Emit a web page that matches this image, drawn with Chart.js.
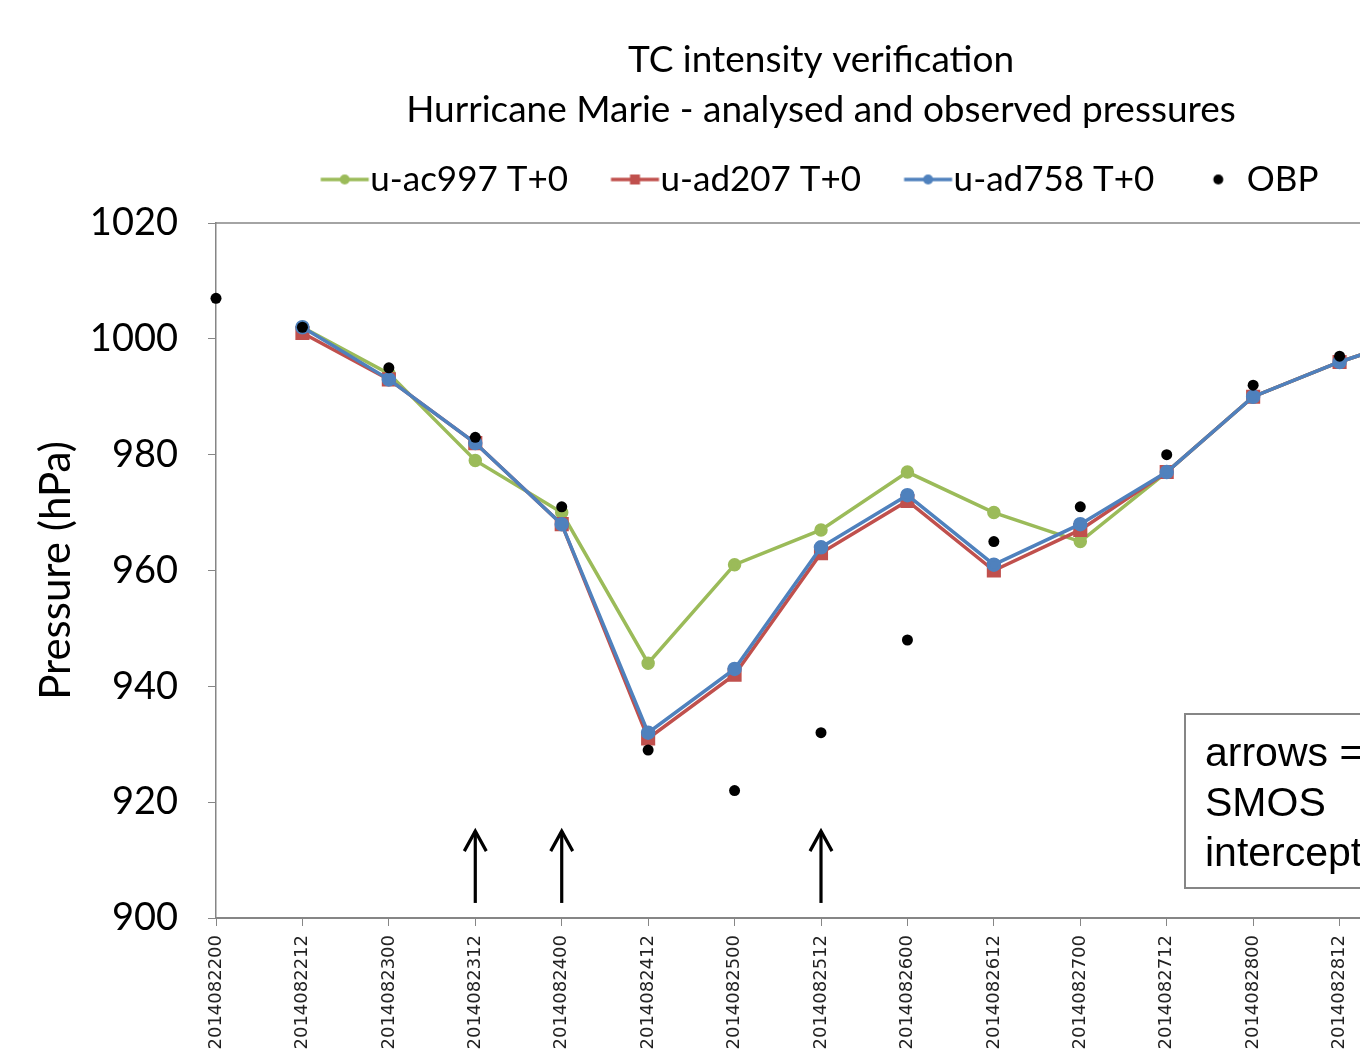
<!DOCTYPE html>
<html>
<head>
<meta charset="utf-8">
<title>TC intensity verification</title>
<script src="https://cdn.jsdelivr.net/npm/chart.js@4/dist/chart.umd.min.js"></script>
<style>
  html, body { margin: 0; padding: 0; background: #fff; overflow: hidden; }
  #wrap { position: absolute; left: 0; top: 0; width: 1642px; height: 1064px; }
</style>
</head>
<body>
<div id="wrap"><canvas id="tcChart" width="1642" height="1064"></canvas></div>
<script>
var CATEGORIES = ['2014082200', '2014082212', '2014082300', '2014082312', '2014082400',
                  '2014082412', '2014082500', '2014082512', '2014082600', '2014082612',
                  '2014082700', '2014082712', '2014082800', '2014082812', '2014082900'];
var AC997 = [null, 1002, 994, 979, 970, 944, 961, 967, 977, 970, 965, 977, 990, 996, 1001];
var AD207 = [null, 1001, 993, 982, 968, 931, 942, 963, 972, 960, 967, 977, 990, 996, 1001];
var AD758 = [null, 1002, 993, 982, 968, 932, 943, 964, 973, 961, 968, 977, 990, 996, 1001];
var OBP   = [1007, 1002, 995, 983, 971, 929, 922, 932, 948, 965, 971, 980, 992, 997, null];
var Y_TICKS = [900, 920, 940, 960, 980, 1000, 1020];
var SMOS_INTERCEPTS = ['2014082312', '2014082400', '2014082512'];
var NOTE_LINES = ['arrows =', 'SMOS', 'intercepts'];

var GREEN = '#9BBB59', RED = '#C0504D', BLUE = '#4F81BD', GREY = '#868686';

// little legend pictures: line with marker, like the office legend
function legendIcon(color, marker, withLine) {
    var c = document.createElement('canvas');
    c.width = 150; c.height = 24;
    var g = c.getContext('2d');
    var cx = 75 + 24.5;
    if (withLine) {
        g.strokeStyle = color; g.lineWidth = 3.5;
        g.beginPath(); g.moveTo(cx - 24, 12); g.lineTo(cx + 24, 12); g.stroke();
    }
    g.fillStyle = color;
    if (marker === 'rect') {
        g.fillRect(cx - 5, 7, 10, 10);
    } else if (marker === 'dot') {
        g.beginPath(); g.arc(75 + 21.5, 12, 5, 0, Math.PI * 2); g.fill();
    } else {
        g.beginPath(); g.arc(cx, 12, 5, 0, Math.PI * 2); g.fill();
    }
    return c;
}

var arrowsAndNote = {
    id: 'arrowsAndNote',
    afterDatasetsDraw: function(chart) {
        var ctx = chart.ctx, x = chart.scales.x, y = chart.scales.y, a = chart.chartArea;
        ctx.save();
        // plot area border
        ctx.strokeStyle = GREY; ctx.lineWidth = 1.5;
        ctx.beginPath();
        ctx.moveTo(a.left, a.top); ctx.lineTo(a.right, a.top); ctx.lineTo(a.right, a.bottom);
        ctx.stroke();
        // SMOS arrows
        ctx.strokeStyle = '#000'; ctx.lineWidth = 3.2;
        SMOS_INTERCEPTS.forEach(function(lab) {
            var px = x.getPixelForValue(CATEGORIES.indexOf(lab));
            var y0 = y.getPixelForValue(902.6), y1 = y.getPixelForValue(915);
            ctx.beginPath(); ctx.moveTo(px, y0); ctx.lineTo(px, y1); ctx.stroke();
            ctx.beginPath();
            ctx.moveTo(px - 11, y1 + 20); ctx.lineTo(px, y1); ctx.lineTo(px + 11, y1 + 20);
            ctx.stroke();
        });
        // text box
        ctx.fillStyle = '#fff';
        ctx.fillRect(1185, 714, 240, 174);
        ctx.strokeStyle = GREY; ctx.lineWidth = 2;
        ctx.strokeRect(1185, 714, 240, 174);
        ctx.fillStyle = '#000';
        ctx.font = '41px "Liberation Sans", Arial, sans-serif';
        ctx.textBaseline = 'alphabetic';
        NOTE_LINES.forEach(function(t, i) { ctx.fillText(t, 1205, 766 + i * 50); });
        ctx.restore();
    }
};

var ctx = document.getElementById('tcChart').getContext('2d');
var tcChart = new Chart(ctx, {
    type: 'line',
    data: {
        labels: CATEGORIES,
        datasets: [
            { label: 'u-ac997 T+0', data: AC997, borderColor: GREEN, backgroundColor: GREEN,
              borderWidth: 3.5, pointStyle: 'circle', pointRadius: 5, order: 3,
              legendPic: legendIcon(GREEN, 'circle', true) },
            { label: 'u-ad207 T+0', data: AD207, borderColor: RED, backgroundColor: RED,
              borderWidth: 3.5, pointStyle: 'rect', pointRadius: 7.5, order: 2,
              legendPic: legendIcon(RED, 'rect', true) },
            { label: 'u-ad758 T+0', data: AD758, borderColor: BLUE, backgroundColor: BLUE,
              borderWidth: 3.5, pointStyle: 'circle', pointRadius: 5.5, order: 1,
              legendPic: legendIcon(BLUE, 'circle', true) },
            { label: 'OBP', data: OBP, borderColor: '#000', backgroundColor: '#000',
              showLine: false, pointStyle: 'circle', pointRadius: 5.5, order: 0,
              legendPic: legendIcon('#000', 'dot', false) }
        ]
    },
    options: {
        responsive: false,
        animation: false,
        layout: { padding: 0 },
        elements: { line: { tension: 0 }, point: { borderWidth: 0, hoverRadius: 6 } },
        plugins: {
            title: {
                display: true,
                text: ['TC intensity verification', 'Hurricane Marie - analysed and observed pressures'],
                color: '#000',
                font: { family: 'Lato', size: 37, weight: 'normal', lineHeight: 50 / 37 },
                padding: { top: 35, bottom: 17 }
            },
            legend: {
                display: true,
                position: 'top',
                labels: {
                    color: '#000',
                    font: { family: 'Lato', size: 35 },
                    usePointStyle: true,
                    pointStyleWidth: 65,
                    padding: 10,
                    generateLabels: function(chart) {
                        var n = chart.data.datasets.length;
                        return chart.data.datasets.map(function(ds, i) {
                            // a little trailing room on the last item nudges the row left, as in the original
                            return { text: i === n - 1 ? ds.label + '    ' : ds.label,
                                     pointStyle: ds.legendPic, fillStyle: ds.borderColor,
                                     strokeStyle: ds.borderColor, lineWidth: 0, hidden: false,
                                     datasetIndex: i, fontColor: '#000' };
                        });
                    }
                }
            },
            tooltip: { enabled: false }
        },
        scales: {
            x: {
                offset: false,
                grid: { display: true, drawOnChartArea: false, color: GREY, tickLength: 8, lineWidth: 1 },
                border: { display: true, color: GREY, width: 2 },
                ticks: { autoSkip: false, maxRotation: 90, minRotation: 90, padding: 9, color: '#222',
                         font: { family: 'DejaVu Sans', size: 18 } },
                afterFit: function(s) { s.height = 146; }
            },
            // spacer between legend and plot area
            xTop: {
                type: 'category', position: 'top', display: true,
                grid: { display: false }, border: { display: false }, ticks: { display: false },
                afterFit: function(s) { s.height = 16; }
            },
            y: {
                min: 900, max: 1020,
                afterBuildTicks: function(s) { s.ticks = Y_TICKS.map(function(v) { return { value: v }; }); },
                grid: { display: true, drawOnChartArea: false, color: GREY, tickLength: 8, lineWidth: 1 },
                border: { display: true, color: GREY, width: 1.5 },
                ticks: { color: '#000', padding: 30, font: { family: 'Lato', size: 38 },
                         callback: function(v) { return String(v); } },
                title: { display: true, text: 'Pressure (hPa)', color: '#000',
                         font: { family: 'Lato', size: 42 }, padding: { top: 31, bottom: 0 } },
                afterFit: function(s) { s.width = 216; }
            },
            // spacer on the right so the plot ends at the 15th category
            yRight: {
                type: 'linear', position: 'right', display: true,
                grid: { display: false }, border: { display: false }, ticks: { display: false },
                afterFit: function(s) { s.width = 216; }
            }
        }
    },
    plugins: [arrowsAndNote]
});
</script>
</body>
</html>
